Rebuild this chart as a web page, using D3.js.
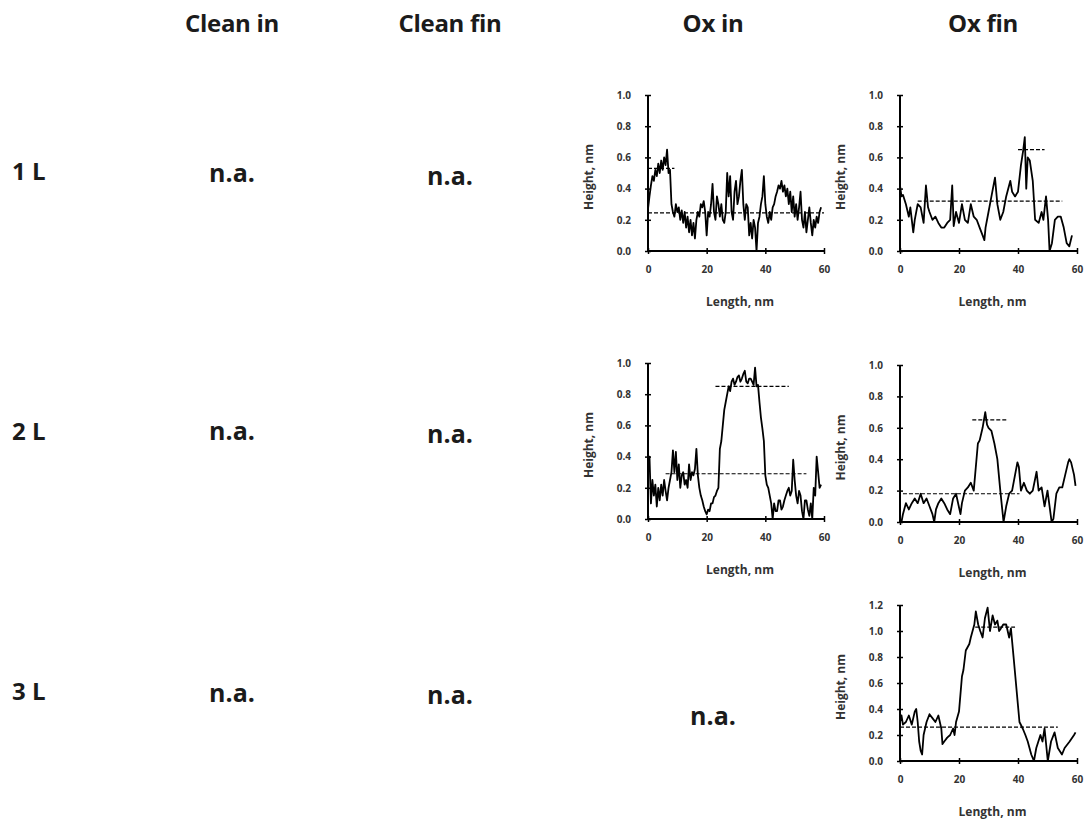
<!DOCTYPE html>
<html>
<head>
<meta charset="utf-8">
<script src="https://cdn.jsdelivr.net/npm/d3@7"></script>
<style>
  html, body { margin: 0; padding: 0; background: #fff; }
  svg { display: block; }
</style>
</head>
<body>
<svg id="chart" width="1086" height="827"></svg>
<script>
// ---------- DATA ----------
const columnHeaders = ["Clean in", "Clean fin", "Ox in", "Ox fin"];
const rowLabels = ["1 L", "2 L", "3 L"];
const naLabel = "n.a.";
const xTicks = [0, 20, 40, 60];
const yTicks1 = [0, 0.2, 0.4, 0.6, 0.8, 1.0];
const yTicks12 = [0, 0.2, 0.4, 0.6, 0.8, 1.0, 1.2];
const xTitle = "Length, nm";
const yTitle = "Height, nm";

// 1 L, Ox in profile [length, height]
const oxIn1L = [[0,0.27],[0.5,0.35],[1,0.42],[1.5,0.48],[2,0.45],[2.5,0.52],[3,0.48],[3.5,0.56],[4,0.50],[4.5,0.58],[5,0.52],[5.5,0.60],[6,0.55],[6.5,0.65],[7,0.50],[7.5,0.52],[8,0.30],[8.5,0.25],[9,0.22],[9.5,0.30],[10,0.25],[10.5,0.28],[11,0.20],[11.5,0.26],[12,0.18],[12.5,0.25],[13,0.15],[13.5,0.22],[14,0.12],[14.5,0.20],[15,0.10],[15.5,0.18],[16,0.08],[16.5,0.20],[17,0.25],[17.5,0.22],[18,0.30],[18.5,0.28],[19,0.32],[19.5,0.25],[20,0.10],[20.5,0.25],[21,0.22],[21.5,0.30],[22,0.43],[22.5,0.25],[23,0.20],[23.5,0.35],[24,0.30],[24.5,0.22],[25,0.30],[25.5,0.20],[26,0.18],[26.5,0.25],[27,0.50],[27.5,0.35],[28,0.48],[28.5,0.25],[29,0.20],[29.5,0.38],[30,0.45],[30.5,0.30],[31,0.35],[31.5,0.45],[32,0.52],[32.5,0.30],[33,0.20],[33.5,0.30],[34,0.28],[34.5,0.10],[35,0.18],[35.5,0.08],[36,0.20],[36.5,0.15],[37,0.00],[37.5,0.18],[38,0.22],[38.5,0.30],[39,0.35],[39.5,0.48],[40,0.30],[40.5,0.22],[41,0.18],[41.5,0.25],[42,0.20],[42.5,0.28],[43,0.30],[43.5,0.35],[44,0.38],[44.5,0.42],[45,0.40],[45.5,0.45],[46,0.38],[46.5,0.42],[47,0.35],[47.5,0.40],[48,0.30],[48.5,0.38],[49,0.25],[49.5,0.35],[50,0.22],[50.5,0.30],[51,0.20],[51.5,0.28],[52,0.38],[52.5,0.20],[53,0.15],[53.5,0.25],[54,0.12],[54.5,0.20],[55,0.28],[55.5,0.18],[56,0.10],[56.5,0.20],[57,0.15],[57.5,0.22],[58,0.18],[58.5,0.25],[59,0.28]];

// 1 L, Ox fin profile
const oxFin1L = [[0,0.42],[0.5,0.35],[1,0.36],[2,0.30],[3,0.22],[3.5,0.28],[4.5,0.12],[5,0.20],[6,0.30],[7,0.28],[8,0.18],[8.8,0.42],[9.5,0.28],[10,0.25],[11,0.20],[12,0.22],[13,0.18],[14,0.15],[15,0.15],[16,0.18],[17,0.20],[17.7,0.42],[18.2,0.16],[19,0.25],[20,0.18],[21,0.30],[22,0.20],[23,0.18],[24,0.30],[25,0.22],[26,0.20],[27,0.15],[28,0.10],[28.6,0.07],[29,0.15],[30,0.25],[31,0.35],[32.2,0.47],[33,0.30],[34,0.20],[35,0.25],[36,0.35],[37.4,0.45],[38,0.38],[39,0.35],[40,0.38],[41,0.55],[41.8,0.65],[42.3,0.73],[42.8,0.40],[43.3,0.60],[44,0.58],[45,0.45],[45.8,0.20],[47,0.18],[48,0.25],[48.6,0.20],[49.5,0.35],[50.2,0.20],[50.7,0.00],[51.5,0.05],[52.5,0.20],[53.5,0.22],[54.5,0.22],[55.5,0.15],[56.5,0.05],[57.4,0.03],[58.3,0.10]];

// 2 L, Ox in profile
const oxIn2L = [[0,0.30],[0.5,0.40],[1,0.10],[1.5,0.25],[2,0.15],[2.5,0.22],[3,0.08],[3.5,0.20],[4,0.12],[4.5,0.22],[5,0.15],[5.5,0.25],[6,0.18],[6.5,0.12],[7,0.20],[7.5,0.25],[8,0.30],[8.5,0.44],[9,0.30],[9.5,0.43],[10,0.25],[10.5,0.35],[11,0.20],[11.5,0.28],[12,0.30],[12.5,0.22],[13,0.25],[13.5,0.20],[14,0.35],[14.5,0.25],[15,0.30],[15.5,0.28],[16,0.32],[16.5,0.45],[17,0.28],[17.5,0.20],[18,0.15],[18.5,0.12],[19,0.08],[19.5,0.05],[20,0.03],[20.5,0.06],[21,0.05],[21.5,0.10],[22,0.10],[22.5,0.14],[23,0.15],[23.5,0.18],[24,0.20],[24.5,0.45],[25,0.50],[25.5,0.60],[26,0.70],[26.5,0.75],[27,0.80],[27.5,0.85],[28,0.82],[28.5,0.88],[29,0.90],[29.5,0.86],[30,0.88],[30.5,0.91],[31,0.92],[31.5,0.88],[32,0.90],[32.5,0.93],[33,0.95],[33.5,0.88],[34,0.87],[34.5,0.90],[35,0.90],[35.5,0.88],[36,0.86],[36.5,0.97],[37,0.85],[37.5,0.86],[38,0.75],[38.5,0.65],[39,0.58],[39.5,0.50],[40,0.28],[40.5,0.22],[41,0.20],[41.5,0.15],[42,0.10],[42.5,0.00],[43,0.10],[43.5,0.05],[44,0.05],[44.5,0.12],[45,0.12],[45.5,0.06],[46,0.08],[46.5,0.12],[47,0.15],[47.5,0.18],[48,0.20],[48.5,0.15],[49,0.18],[49.5,0.38],[50,0.25],[50.5,0.15],[51,0.10],[51.5,0.18],[52,0.15],[52.5,0.05],[53,0.00],[53.5,0.12],[54,0.12],[54.5,0.06],[55,0.02],[55.5,0.10],[56,0.00],[56.5,0.20],[57,0.15],[57.5,0.40],[58,0.30],[58.5,0.20],[59,0.22]];

// 2 L, Ox fin profile
const oxFin2L = [[0.5,0.00],[1,0.05],[2,0.12],[3,0.08],[4,0.12],[5,0.15],[6,0.12],[7,0.18],[8,0.12],[9,0.15],[10,0.10],[11,0.05],[11.6,0.00],[12.2,0.08],[13,0.12],[14,0.15],[15,0.12],[16,0.08],[17,0.05],[18,0.15],[19,0.18],[20.5,0.05],[21,0.12],[22,0.20],[23,0.22],[24,0.25],[25,0.20],[26.4,0.50],[27,0.52],[28,0.60],[28.9,0.70],[29.5,0.62],[30,0.60],[31,0.58],[32,0.50],[33,0.40],[34,0.20],[35.1,0.00],[36,0.10],[37,0.18],[38,0.20],[39,0.30],[39.8,0.38],[40.3,0.35],[41,0.20],[42,0.25],[43,0.20],[44,0.18],[45,0.20],[46.3,0.32],[47,0.20],[48,0.22],[49,0.10],[50,0.20],[51.4,0.00],[52,0.02],[53,0.18],[54,0.22],[55,0.22],[56,0.30],[57,0.38],[57.4,0.40],[58,0.38],[59,0.30],[59.5,0.23]];

// 3 L, Ox fin profile
const oxFin3L = [[0,0.30],[0.5,0.35],[1,0.28],[2,0.30],[3,0.35],[4,0.28],[5,0.38],[5.5,0.40],[6,0.30],[6.5,0.15],[7,0.08],[7.5,0.05],[8,0.20],[9,0.30],[10,0.36],[11,0.33],[12,0.30],[13,0.35],[14,0.25],[14.4,0.13],[15,0.15],[16,0.18],[17,0.20],[18,0.25],[18.5,0.20],[19,0.30],[20,0.38],[21,0.65],[21.5,0.70],[22.3,0.85],[23.5,0.90],[24,0.95],[25.2,1.05],[25.7,1.15],[26.5,1.05],[27.2,1.00],[28,0.95],[28.8,1.10],[29.7,1.18],[30.5,1.00],[31.4,1.12],[32.2,1.05],[33,1.08],[33.6,1.00],[34.2,1.02],[35,1.05],[36,1.05],[37,0.95],[37.6,1.02],[38.5,0.80],[39.3,0.60],[40.5,0.30],[41.6,0.25],[42.5,0.20],[43.3,0.15],[44.5,0.05],[45.4,0.00],[46.2,0.10],[47.6,0.20],[48.3,0.15],[49,0.25],[50.1,0.00],[51.2,0.15],[52.4,0.22],[53.5,0.10],[54.9,0.05],[55.8,0.10],[57.5,0.15],[59,0.20],[59.5,0.22]];

// dashed reference levels: [height, from length, to length]
const refOxIn1L = [[0.53, 0, 9], [0.245, 0, 60]];
const refOxFin1L = [[0.65, 40, 49], [0.32, 6, 55]];
const refOxIn2L = [[0.85, 23, 48], [0.29, 6, 54]];
const refOxFin2L = [[0.65, 24.5, 36.5], [0.18, 1, 40.5]];
const refOxFin3L = [[1.03, 25.5, 39], [0.26, 0, 53.5]];

// ---------- LAYOUT ----------
const svg = d3.select("#chart");
const textColor = "#1b1b1b";
const fontFam = "'Open Sans', 'Liberation Sans', sans-serif";

const colX = [232, 450, 713, 983];
svg.selectAll("text.hdr").data(columnHeaders).join("text")
  .attr("class", "hdr")
  .attr("x", (d, i) => colX[i]).attr("y", 22)
  .attr("text-anchor", "middle").attr("dominant-baseline", "central")
  .style("font-family", fontFam).style("font-weight", 700).style("font-size", "24px")
  .style("letter-spacing", "-0.3px")
  .style("fill", textColor).text(d => d);

const rowY = [170, 430, 690];
svg.selectAll("text.row").data(rowLabels).join("text")
  .attr("class", "row")
  .attr("x", 12).attr("y", (d, i) => rowY[i])
  .attr("dominant-baseline", "central")
  .style("font-family", fontFam).style("font-weight", 700).style("font-size", "24px")
  .style("fill", textColor).text(d => d);

const naPos = [[232, 172], [450, 175], [232, 430], [450, 433], [232, 692], [450, 694], [713, 715]];
svg.selectAll("text.na").data(naPos).join("text")
  .attr("class", "na")
  .attr("x", d => d[0]).attr("y", d => d[1])
  .attr("text-anchor", "middle").attr("dominant-baseline", "central")
  .style("font-family", fontFam).style("font-weight", 700).style("font-size", "25px")
  .style("fill", textColor).text(naLabel);

function panel(cfg) {
  const x = d3.scaleLinear().domain([0, 60]).range([cfg.x0, cfg.x1]);
  const y = d3.scaleLinear().domain([0, cfg.ymax]).range([cfg.yb, cfg.yt]);
  const g = svg.append("g");

  const xa = g.append("g").attr("transform", `translate(0,${cfg.yb})`)
    .call(d3.axisBottom(x).tickValues(xTicks).tickSize(3).tickPadding(12).tickFormat(d3.format("d")));
  const ya = g.append("g").attr("transform", `translate(${cfg.x0},0)`)
    .call(d3.axisLeft(y).tickValues(cfg.yTicks).tickSize(3).tickPadding(14).tickFormat(d3.format(".1f")));
  [xa, ya].forEach(a => {
    a.select(".domain").attr("stroke", "#000").attr("stroke-width", 2);
    a.selectAll(".tick text").style("font-family", fontFam).style("font-weight", 700)
      .style("font-size", "10px").style("fill", "#333");
  });
  xa.selectAll(".tick line").attr("y1", -3).attr("y2", 3).attr("stroke-width", 1.5);
  ya.selectAll(".tick line").attr("x1", -3).attr("x2", 3).attr("stroke-width", 1.5);
  xa.select(".domain").attr("d", `M${cfg.x0},0H${cfg.x1}`);
  ya.select(".domain").attr("d", `M0,${cfg.yb}V${cfg.yt}`);

  g.selectAll("line.ref").data(cfg.refs).join("line")
    .attr("x1", d => x(d[1])).attr("x2", d => x(d[2]))
    .attr("y1", d => y(d[0])).attr("y2", d => y(d[0]))
    .attr("stroke", "#000").attr("stroke-width", 1.2).attr("stroke-dasharray", "4,2");

  g.append("path").datum(cfg.data)
    .attr("d", d3.line().x(d => x(d[0])).y(d => y(d[1])))
    .attr("fill", "none").attr("stroke", "#000").attr("stroke-width", 1.8)
    .attr("stroke-linejoin", "round");

  g.append("text")
    .attr("x", (cfg.x0 + cfg.x1) / 2 + 4).attr("y", cfg.yb + 50)
    .attr("text-anchor", "middle").attr("dominant-baseline", "central")
    .style("font-family", fontFam).style("font-weight", 700).style("font-size", "12px")
    .style("fill", "#333").text(xTitle);

  g.append("text")
    .attr("transform", `translate(${cfg.x0 - 60},${(cfg.yb + cfg.yt) / 2 + 4}) rotate(-90)`)
    .attr("text-anchor", "middle").attr("dominant-baseline", "central")
    .style("font-family", fontFam).style("font-weight", 700).style("font-size", "12px")
    .style("fill", "#333").text(yTitle);
}

panel({ x0: 648, x1: 824, yt: 95, yb: 251, ymax: 1.0, yTicks: yTicks1, data: oxIn1L, refs: refOxIn1L });
panel({ x0: 900, x1: 1077, yt: 95, yb: 251, ymax: 1.0, yTicks: yTicks1, data: oxFin1L, refs: refOxFin1L });
panel({ x0: 648, x1: 824, yt: 363, yb: 519, ymax: 1.0, yTicks: yTicks1, data: oxIn2L, refs: refOxIn2L });
panel({ x0: 900, x1: 1077, yt: 365, yb: 522, ymax: 1.0, yTicks: yTicks1, data: oxFin2L, refs: refOxFin2L });
panel({ x0: 900, x1: 1077, yt: 605, yb: 761, ymax: 1.2, yTicks: yTicks12, data: oxFin3L, refs: refOxFin3L });
</script>
</body>
</html>
